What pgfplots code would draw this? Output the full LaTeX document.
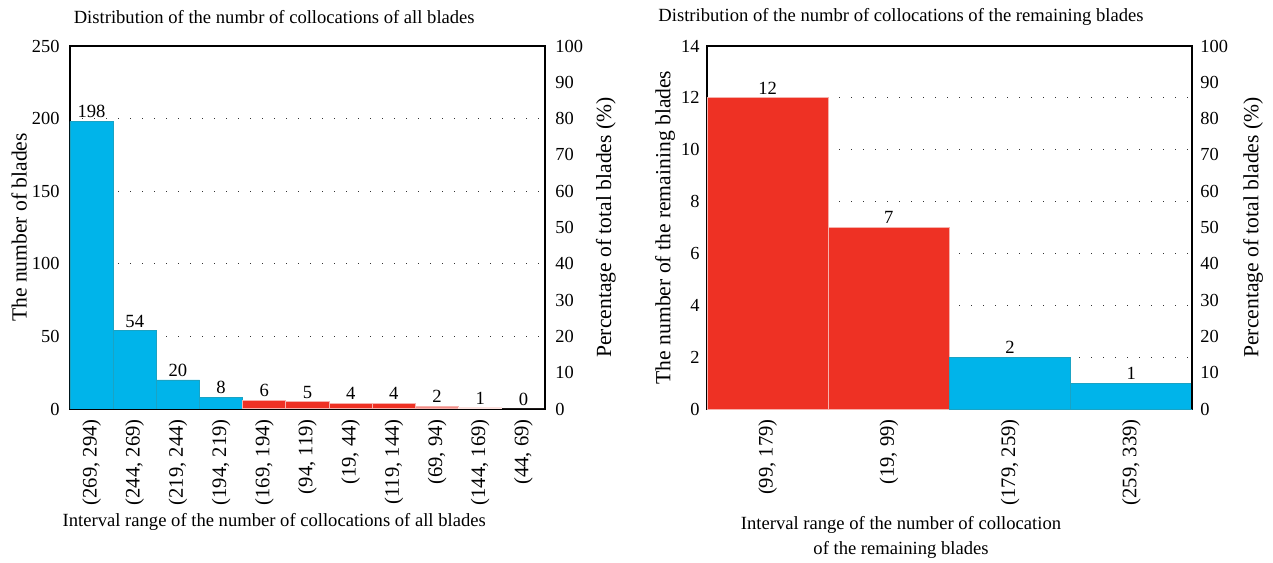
\documentclass[border=0pt]{standalone}
\usepackage{pgfplots}
\pgfplotsset{compat=1.18}
\usepackage{fontspec}
\setmainfont{Liberation Serif}
\definecolor{cblue}{HTML}{00B4EA}
\definecolor{cblueE}{HTML}{1AA3C4}
\definecolor{cred}{HTML}{EE3124}
\definecolor{credE}{HTML}{F6B1AC}
\definecolor{csalmon}{HTML}{F28C86}
\definecolor{cpale}{HTML}{FAD4D2}
\pgfplotsset{
  base/.style={
    scale only axis, anchor=south west,
    font=\fontsize{9.2}{11}\selectfont,
    /pgf/number format/assume math mode=true,
    axis line style={line width=0.6pt},
    major tick length=0pt, minor tick length=0pt,
    tick style={draw=none},
    yticklabel style={inner sep=0pt},
    ylabel style={font=\fontsize{10.8}{12}\selectfont},
    every axis title shift=0pt,
    title style={font=\fontsize{9.3}{11}\selectfont},
    xlabel style={font=\fontsize{9.3}{12.6}\selectfont},
    ytick pos=left,
  },
  barsty/.style={
    ybar, bar width=1, bar shift=0pt,
    nodes near coords,
    every node near coord/.append style={font=\fontsize{9.3}{11}\selectfont, black, inner sep=1.5pt},
  },
}
\begin{document}
\begin{tikzpicture}
\useasboundingbox (0,0) rectangle (636.5pt,281pt);
% ---------------- left panel ----------------
\begin{axis}[base, at={(35pt,76.5pt)}, width=237.5pt, height=181.5pt,
  xmin=-0.5, xmax=10.5, ymin=0, ymax=250, ytick={0,50,...,250},
  yticklabel shift=5pt,
  xtick={0,...,10},
  xticklabels={{(269, 294)},{(244, 269)},{(219, 244)},{(194, 219)},{(169, 194)},{(94, 119)},{(19, 44)},{(119, 144)},{(69, 94)},{(144, 169)},{(44, 69)}},
  xticklabel style={rotate=90, anchor=east, inner sep=0pt, font=\fontsize{10.3}{12}\selectfont},
  xticklabel shift=5pt,
  ymajorgrids, major grid style={line width=0.6pt, dash pattern=on 0.6pt off 5.4pt, black!80},
  title={Distribution of the numbr of collocations of all blades},
  title style={at={(axis description cs:0.43,1.079)}, anchor=center},
  xlabel={Interval range of the number of collocations of all blades},
  xlabel style={at={(axis description cs:0.43,-0.312)}, anchor=center},
  ylabel={The number of blades},
  ylabel style={at={(axis description cs:-0.107,0.5)}, anchor=center},
]
\addplot[barsty, fill=cblue, draw=cblueE, line width=0.4pt] coordinates {(0,198) (1,54) (2,20) (3,8)};
\addplot[barsty, fill=cred, draw=credE, line width=0.5pt] coordinates {(4,6) (5,5) (6,4) (7,4)};
\addplot[barsty, fill=csalmon, draw=credE, line width=0.5pt] coordinates {(8,2)};
\addplot[barsty, fill=cpale, draw=cpale!70!white, line width=0.5pt] coordinates {(9,1)};
\addplot[barsty, fill=cpale, draw=none] coordinates {(10,0)};
\end{axis}
\begin{axis}[base, at={(35pt,76.5pt)}, width=237.5pt, height=181.5pt,
  xmin=-0.5, xmax=10.5, ymin=0, ymax=100, ytick={0,10,...,100},
  axis y line*=right, axis x line=none, ytick pos=right,
  yticklabel shift=5pt,
  ylabel={Percentage of total blades (\%)},
  ylabel style={at={(axis description cs:1.128,0.5)}, anchor=center, rotate=0},
]
\addplot[draw=none] coordinates {(0,0)};
\end{axis}
% ---------------- right panel ----------------
\begin{axis}[base, at={(353.5pt,76.5pt)}, width=242.5pt, height=181.5pt,
  xmin=-0.5, xmax=3.5, ymin=0, ymax=14, ytick={0,2,...,14},
  yticklabel shift=3.5pt,
  xtick={0,...,3},
  xticklabels={{(99, 179)},{(19, 99)},{(179, 259)},{(259, 339)}},
  xticklabel style={rotate=90, anchor=east, inner sep=0pt, font=\fontsize{10.3}{12}\selectfont},
  xticklabel shift=5pt,
  ymajorgrids, major grid style={line width=0.6pt, dash pattern=on 0.6pt off 5.4pt, black!80},
  title={Distribution of the numbr of collocations of the remaining blades},
  title style={at={(axis description cs:0.40,1.079)}, anchor=center},
  xlabel={Interval range of the number of collocation\\of the remaining blades},
  xlabel style={at={(axis description cs:0.40,-0.353)}, anchor=center, align=center},
  ylabel={The number of the remaining blades},
  ylabel style={at={(axis description cs:-0.0866,0.5)}, anchor=center},
]
\addplot[barsty, fill=cred, draw=credE, line width=0.5pt] coordinates {(0,12) (1,7)};
\addplot[barsty, fill=cblue, draw=cblueE, line width=0.4pt] coordinates {(2,2) (3,1)};
\end{axis}
\begin{axis}[base, at={(353.5pt,76.5pt)}, width=242.5pt, height=181.5pt,
  xmin=-0.5, xmax=3.5, ymin=0, ymax=100, ytick={0,10,...,100},
  axis y line*=right, axis x line=none, ytick pos=right,
  yticklabel shift=4pt,
  ylabel={Percentage of total blades (\%)},
  ylabel style={at={(axis description cs:1.126,0.5)}, anchor=center, rotate=0},
]
\addplot[draw=none] coordinates {(0,0)};
\end{axis}
\end{tikzpicture}
\end{document}
